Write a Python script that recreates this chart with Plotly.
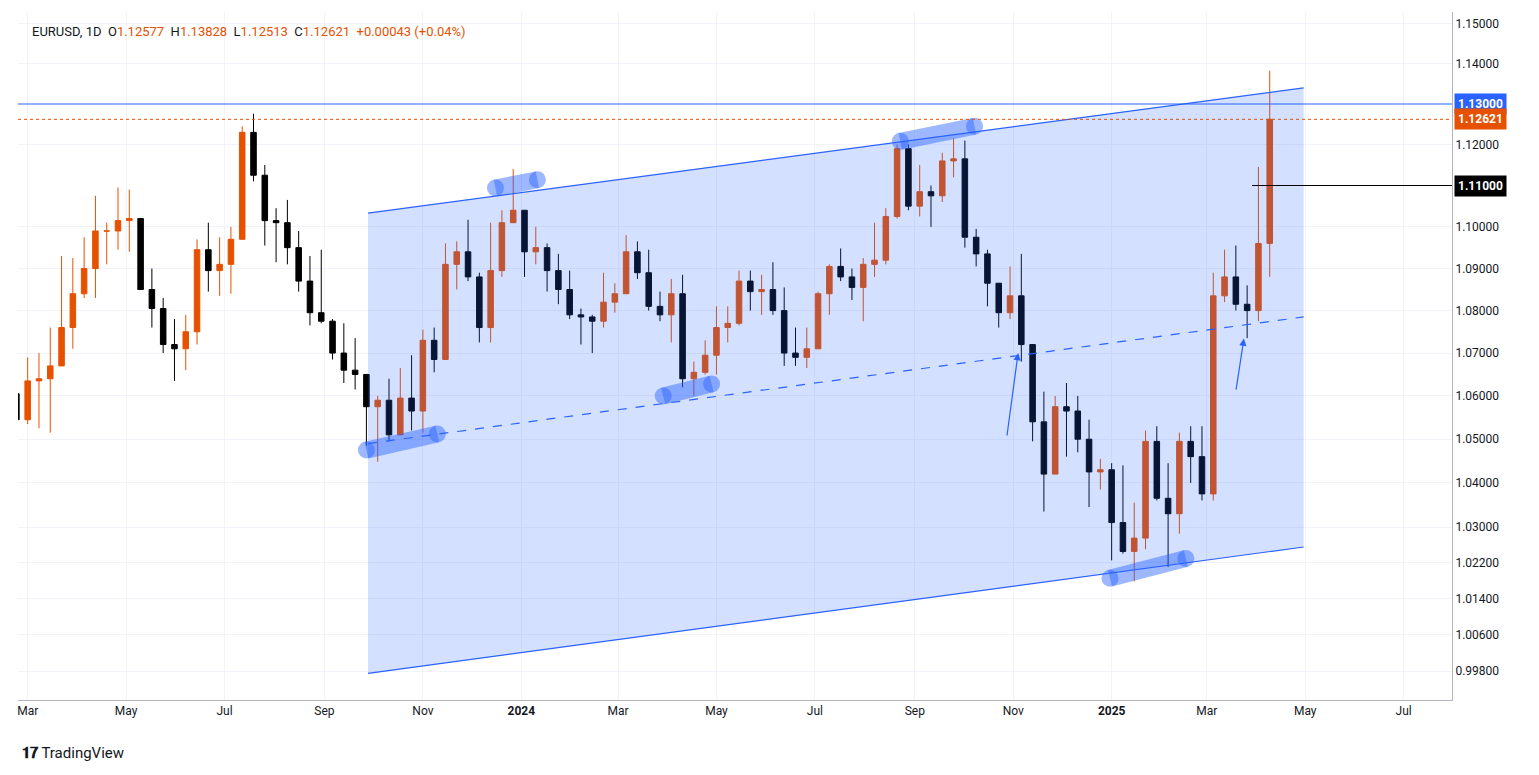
import plotly.graph_objects as go
import pandas as pd
import math

week_start = "2023-02-20"
closes = [1.0545,1.0635,1.0640,1.0670,1.0760,1.0840,1.0900,1.0990,1.0990,1.1015,1.1020,1.0850,1.0805,1.0720,1.0710,1.0750,1.0945,1.0895,1.0910,1.0970,1.1230,1.1125,1.1015,1.1010,1.0950,1.0870,1.0795,1.0775,1.0700,1.0660,1.0650,1.0575,1.0590,1.0510,1.0595,1.0565,1.0730,1.0685,1.0910,1.0940,1.0880,1.0760,1.0895,1.1010,1.1040,
1.0940,1.0950,1.0895,1.0850,1.0790,1.0785,1.0775,1.0820,1.0840,1.0940,1.0890,1.0810,1.0790,1.0840,1.0640,1.0655,1.0695,1.0760,1.0770,1.0870,1.0845,1.0850,1.0800,1.0700,1.0690,1.0710,1.0840,1.0905,1.0880,1.0855,1.0910,1.0920,1.1025,1.1190,1.1050,1.1085,1.1075,1.1160,1.1165,1.0975,1.0935,1.0865,1.0795,1.0835,1.0720,1.0540,1.0420,1.0575,1.0565,1.0500,1.0425,1.0430,1.0310,
1.0245,1.0275,1.0495,1.0365,1.0330,1.0495,1.0460,1.0375,1.0835,1.0880,1.0815,1.0800,1.0960,1.12621]
highs = [1.0695,1.0690,1.0700,1.0760,1.0930,1.0925,1.0975,1.1075,1.1010,1.1095,1.1090,1.1000,1.0900,1.0830,1.0780,1.0790,1.0970,1.1010,1.0975,1.1000,1.1245,1.1276,1.1150,1.1045,1.1065,1.0990,1.0930,1.0945,1.0780,1.0770,1.0735,1.0620,1.0600,1.0640,1.0665,1.0695,1.0755,1.0760,1.0960,1.0965,1.1017,1.0890,1.1010,1.1040,1.1140,
1.1040,1.1000,1.0960,1.0935,1.0895,1.0805,1.0790,1.0890,1.0865,1.0980,1.0965,1.0945,1.0845,1.0875,1.0885,1.0680,1.0730,1.0810,1.0810,1.0895,1.0895,1.0885,1.0915,1.0855,1.0760,1.0760,1.0845,1.0910,1.0948,1.0900,1.0925,1.1010,1.1045,1.1200,1.1200,1.1150,1.1100,1.1180,1.1215,1.1210,1.0995,1.0945,1.0855,1.0905,1.0935,1.0720,1.0610,1.0600,1.0630,1.0600,1.0545,1.0455,1.0445,
1.0440,1.0355,1.0520,1.0530,1.0445,1.0515,1.0530,1.0530,1.0890,1.0945,1.0955,1.0860,1.1145,1.13828]
lows = [1.0535,1.0535,1.0525,1.0515,1.0710,1.0710,1.0830,1.0830,1.0910,1.0945,1.0940,1.0850,1.0760,1.0700,1.0635,1.0660,1.0720,1.0845,1.0835,1.0840,1.0970,1.1110,1.0955,1.0915,1.0910,1.0845,1.0765,1.0770,1.0685,1.0630,1.0615,1.0485,1.0448,1.0495,1.0525,1.0520,1.0515,1.0655,1.0690,1.0850,1.0870,1.0725,1.0725,1.0880,1.1035,
1.0880,1.0910,1.0845,1.0815,1.0780,1.0720,1.0700,1.0760,1.0795,1.0840,1.0875,1.0800,1.0775,1.0725,1.0620,1.0600,1.0650,1.0650,1.0725,1.0765,1.0800,1.0790,1.0790,1.0670,1.0670,1.0665,1.0710,1.0790,1.0870,1.0825,1.0775,1.0880,1.0910,1.1020,1.1040,1.1025,1.1000,1.1060,1.1120,1.0950,1.0905,1.0810,1.0760,1.0780,1.0680,1.0495,1.0335,1.0420,1.0460,1.0470,1.0345,1.0385,1.0225,
1.0240,1.0178,1.0250,1.0360,1.0210,1.0285,1.0400,1.0360,1.0360,1.0820,1.0800,1.0735,1.0775,1.0880]
first_open = 1.0605

dates = pd.date_range(week_start, periods=len(closes), freq="7D") + pd.Timedelta(days=2)
opens = [first_open] + closes[:-1]

UP = "#e65100"; DN = "#000000"; BLUE = "#2962ff"
tickvals = [1.15,1.14,1.12,1.10,1.09,1.08,1.07,1.06,1.05,1.04,1.03,1.022,1.014,1.006,0.998]
xticks = ["2023-03-01","2023-05-01","2023-07-01","2023-09-01","2023-11-01","2024-01-01","2024-03-01","2024-05-01","2024-07-01","2024-09-01","2024-11-01","2025-01-01","2025-03-01","2025-05-01","2025-07-01"]
xtext = ["Mar","May","Jul","Sep","Nov","<b>2024</b>","Mar","May","Jul","Sep","Nov","<b>2025</b>","Mar","May","Jul"]

ch_x = ["2023-09-28","2025-04-30"]
ch_up = [1.1033,1.1340]; ch_lo = [0.9975,1.0255]; ch_mid = [1.0490,1.0785]
blobs = [(["2023-09-27","2023-11-10"],[1.0475,1.0512]),(["2023-12-16","2024-01-11"],[1.1094,1.1114]),
         (["2024-03-29","2024-04-28"],[1.0600,1.0628]),(["2024-08-23","2024-10-08"],[1.1208,1.1245]),
         (["2024-12-31","2025-02-16"],[1.0185,1.0229])]
arrows = [("2024-10-28",1.0505,"2024-11-04",1.0700),("2025-03-19",1.0611,"2025-03-24",1.0734)]

fig = go.Figure()
fig.add_trace(go.Scatter(x=ch_x+ch_x[::-1], y=ch_up+ch_lo[::-1], fill="toself", fillcolor="rgba(41,98,255,0.2)",
                         line=dict(width=0), mode="lines", hoverinfo="skip"))
for b in blobs:
    fig.add_trace(go.Scatter(x=b[0], y=b[1], mode="lines+markers", line=dict(color="rgba(41,98,255,0.45)", width=17),
                             marker=dict(size=17, color="rgba(41,98,255,0.45)"), hoverinfo="skip"))
fig.add_trace(go.Candlestick(x=dates, open=opens, high=highs, low=lows, close=closes,
    increasing=dict(line=dict(color=UP, width=1), fillcolor=UP),
    decreasing=dict(line=dict(color=DN, width=1), fillcolor=DN), whiskerwidth=0))
for ys, dash in [(ch_up,"solid"),(ch_lo,"solid"),(ch_mid,"dash")]:
    fig.add_trace(go.Scatter(x=ch_x, y=ys, mode="lines", line=dict(color=BLUE, width=1.2, dash=dash), hoverinfo="skip"))
xr = ["2023-02-23","2025-07-31"]
fig.add_trace(go.Scatter(x=xr, y=[1.13,1.13], mode="lines", line=dict(color=BLUE, width=1.2)))
fig.add_trace(go.Scatter(x=xr, y=[1.12621,1.12621], mode="lines", line=dict(color=UP, width=1, dash="dot")))
fig.add_trace(go.Scatter(x=["2025-03-29", xr[1]], y=[1.11,1.11], mode="lines", line=dict(color="black", width=1.2)))

ann = []
for (x0,y0,x1,y1) in arrows:
    ann.append(dict(x=x1, y=math.log10(y1), ax=x0, ay=math.log10(y0), xref="x", yref="y", axref="x", ayref="y",
                    showarrow=True, arrowhead=2, arrowsize=1.2, arrowwidth=1.2, arrowcolor=BLUE, text=""))
for v, bg in [(1.13, BLUE), (1.12621, UP), (1.11, "#000000")]:
    ann.append(dict(x=1, xref="paper", y=math.log10(v), yref="y", xanchor="left", text=f"<b>{v:.5f}</b>", showarrow=False,
                    bgcolor=bg, font=dict(color="white", size=12), borderpad=3, xshift=2))
ann.append(dict(x=0, y=1, xref="paper", yref="paper", xanchor="left", yanchor="top", xshift=12, yshift=-10, showarrow=False,
    text="EURUSD, 1D  O<span style='color:#e65100'>1.12577</span>  H<span style='color:#e65100'>1.13828</span>  L<span style='color:#e65100'>1.12513</span>  C<span style='color:#e65100'>1.12621</span>  <span style='color:#e65100'>+0.00043 (+0.04%)</span>",
    font=dict(size=13, color="#131722")))
ann.append(dict(x=0, y=0, xref="paper", yref="paper", xanchor="left", yanchor="top", xshift=2, yshift=-42, showarrow=False,
                text="<b>𝟏𝟕</b> TradingView", font=dict(size=15, color="#131722")))

fig.update_layout(width=1539, height=775, margin=dict(l=10, r=95, t=4, b=83), plot_bgcolor="white", paper_bgcolor="white",
    showlegend=False, annotations=ann, font=dict(family="Roboto, sans-serif", color="#131722"),
    xaxis=dict(range=xr, tickvals=xticks, ticktext=xtext, showgrid=True, gridcolor="#f0f3fa", rangeslider=dict(visible=False),
               showline=True, linecolor="#b2b5be", ticks="", tickfont=dict(size=12)),
    yaxis=dict(type="log", side="right", range=[math.log10(0.9917), math.log10(1.153)], tickvals=tickvals,
               ticktext=[f"{v:.5f}" for v in tickvals], showgrid=True, gridcolor="#f0f3fa", showline=True, linecolor="#b2b5be",
               tickfont=dict(size=12), ticks=""))
fig.write_html("out.html")
